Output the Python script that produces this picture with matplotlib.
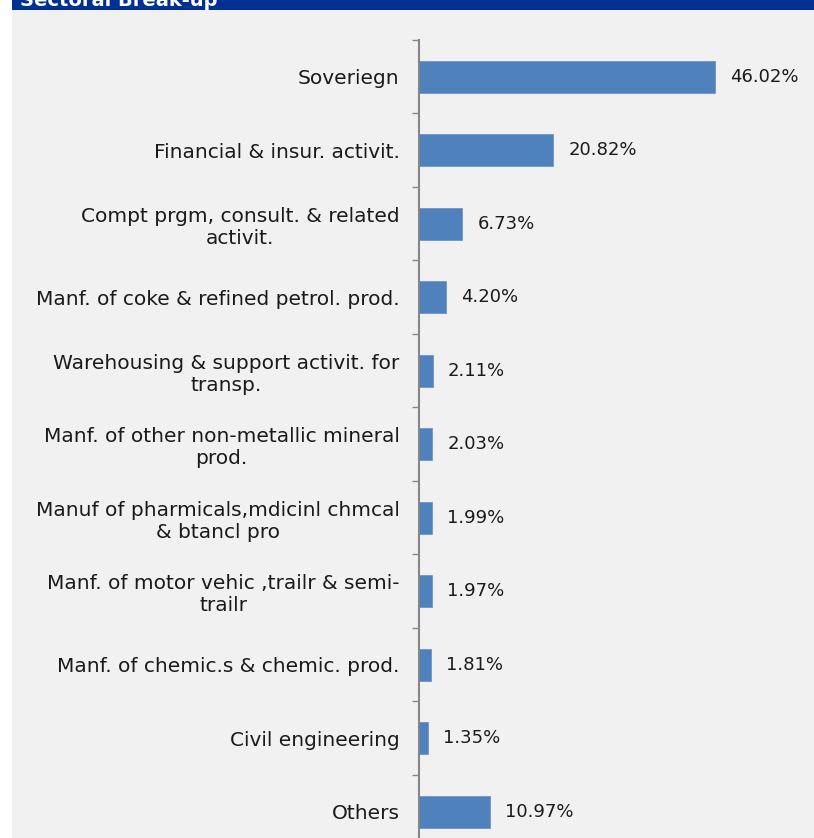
import matplotlib.pyplot as plt
from matplotlib.patches import Rectangle

sectors = [
    "Soveriegn",
    "Financial & insur. activit.",
    "Compt prgm, consult. & related\nactivit.",
    "Manf. of coke & refined petrol. prod.",
    "Warehousing & support activit. for\ntransp.",
    "Manf. of other non-metallic mineral\nprod.",
    "Manuf of pharmicals,mdicinl chmcal\n& btancl pro",
    "Manf. of motor vehic ,trailr & semi-\ntrailr",
    "Manf. of chemic.s & chemic. prod.",
    "Civil engineering",
    "Others",
]
shares = [46.02, 20.82, 6.73, 4.20, 2.11, 2.03, 1.99, 1.97, 1.81, 1.35, 10.97]

W, H = 814, 838
fig = plt.figure(figsize=(W / 100, H / 100), dpi=100)
plt.rcParams['font.family'] = ['DejaVu Sans']

# panel background and header strip
fig.patches.append(Rectangle((12 / W, 0), 1, 1 - 10 / H, transform=fig.transFigure,
                             facecolor='#F1F1F1', edgecolor='none', zorder=0))
fig.patches.append(Rectangle((12 / W, 1 - 10 / H), 1, 10 / H, transform=fig.transFigure,
                             facecolor='#003092', edgecolor='none', zorder=0))
fig.text(20 / W, 1 - 6 / H, "Sectoral Break-up", color='white', fontsize=14,
         fontweight='bold', va='baseline', ha='left')

left = 419 / W
top = 1 - 40 / H
bottom = 1 - 848.5 / H
xmax = 50
px_per_unit = 296 / 46.02
ax = fig.add_axes([left, bottom, xmax * px_per_unit / W, top - bottom])
ax.set_zorder(2)
ax.patch.set_visible(False)

pos = list(range(len(sectors)))
ax.barh(pos, shares, height=0.43, color='#4F81BD', edgecolor='#6F96C8', linewidth=0.6)
for p, v in zip(pos, shares):
    ax.annotate(f"{v:.2f}%", (v, p), xytext=(11, 0), textcoords='offset points',
                va='center', ha='left', fontsize=13, color='#1a1a1a')

ax.set_xlim(0, xmax)
ax.set_ylim(len(sectors) - 0.5, -0.5)
ax.set_xticks([])
ax.set_yticks(pos)
ax.set_yticklabels(sectors, fontsize=14.5, color='#1a1a1a')
for lbl in ax.get_yticklabels():
    lbl.set_multialignment('center')
    lbl.set_linespacing(1.2)
ax.set_yticks([p - 0.5 for p in pos] + [len(sectors) - 0.5], minor=True)
ax.tick_params(axis='y', which='major', length=0, pad=14)
ax.tick_params(axis='y', which='minor', length=5, width=1, color='#868686')

for side in ('top', 'right', 'bottom'):
    ax.spines[side].set_visible(False)
ax.spines['left'].set_color('#868686')
ax.spines['left'].set_linewidth(1.5)

fig.savefig('out.png', dpi=100)
